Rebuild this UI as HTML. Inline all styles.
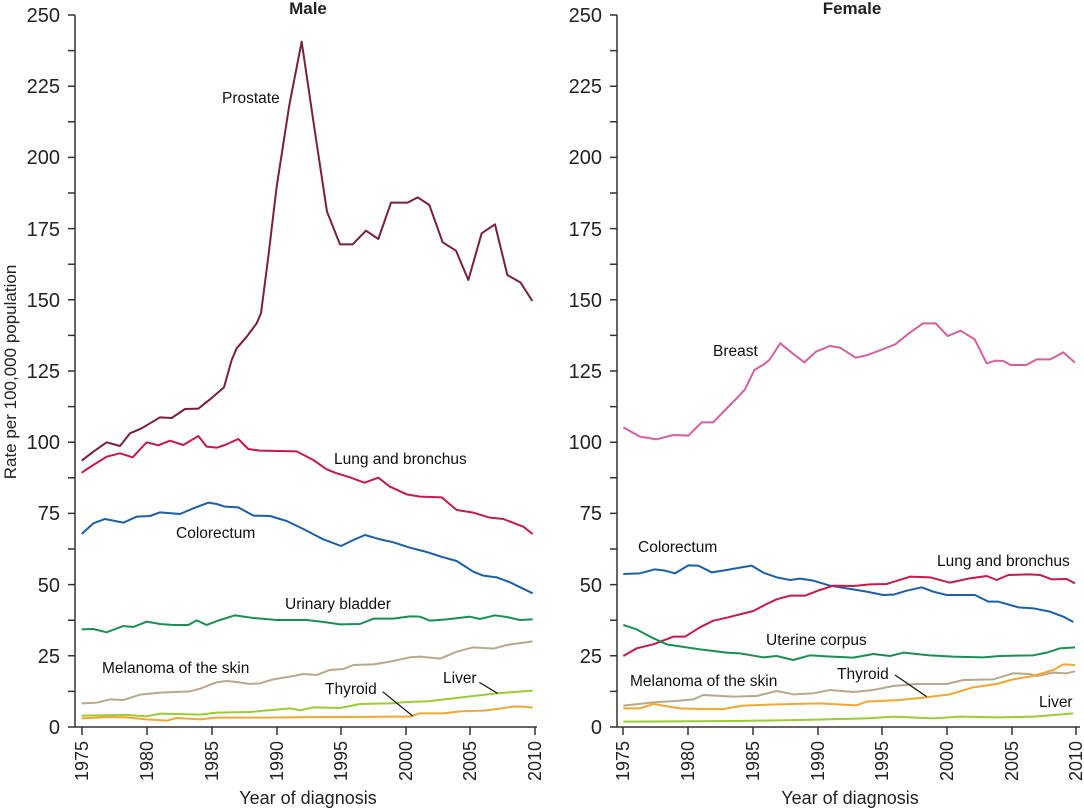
<!DOCTYPE html>
<html><head><meta charset="utf-8"><style>
html,body{margin:0;padding:0;background:#fff;}
svg{display:block;font-family:"Liberation Sans",Arial,sans-serif;}
.s{fill:none;stroke-width:2;vector-effect:non-scaling-stroke;stroke-linejoin:round}
.ax{stroke:#333;stroke-width:1.5;fill:none}
.t{font-size:18px;fill:#222}
.tk{font-size:20px;fill:#222}
.yr{font-size:18px;fill:#222}
.lb{font-size:15.5px;fill:#111}
</style></head><body>
<svg width="1084" height="809" viewBox="0 0 1084 809" xmlns="http://www.w3.org/2000/svg">
<text transform="translate(16,372) rotate(-90)" text-anchor="middle" class="t" style="font-size:17px">Rate per 100,000 population</text>

<g class="ax">
<path d="M75,15V727M68,727H537"/>
<path d="M68,15H75M68,50.6H75M68,86.2H75M68,121.8H75M68,157.4H75M68,193H75M68,228.6H75M68,264.2H75M68,299.8H75M68,335.4H75M68,371H75M68,406.6H75M68,442.2H75M68,477.8H75M68,513.4H75M68,549H75M68,584.6H75M68,620.2H75M68,655.8H75M68,691.4H75"/>
<path d="M82,727v8M147,727v8M212,727v8M277,727v8M341,727v8M406,727v8M470,727v8M535,727v8"/>
</g>
<g class="tk" text-anchor="end">
<text x="60" y="22">250</text><text x="60" y="93">225</text><text x="60" y="164">200</text><text x="60" y="236">175</text><text x="60" y="307">150</text><text x="60" y="378">125</text><text x="60" y="449">100</text><text x="60" y="520">75</text><text x="60" y="592">50</text><text x="60" y="663">25</text><text x="60" y="734">0</text>
</g>
<g class="yr" text-anchor="middle">
<text transform="translate(88,761) rotate(-90)">1975</text>
<text transform="translate(153,761) rotate(-90)">1980</text>
<text transform="translate(218,761) rotate(-90)">1985</text>
<text transform="translate(283,761) rotate(-90)">1990</text>
<text transform="translate(347,761) rotate(-90)">1995</text>
<text transform="translate(412,761) rotate(-90)">2000</text>
<text transform="translate(476,761) rotate(-90)">2005</text>
<text transform="translate(541,761) rotate(-90)">2010</text>
</g>
<text x="308" y="804" text-anchor="middle" class="t">Year of diagnosis</text>
<text x="308" y="14" text-anchor="middle" class="t" style="font-weight:bold;font-size:17px">Male</text>

<g transform="translate(60,0) scale(0.33333)">
<polyline class="s" stroke="#7a1f3d" points="65,1382 100,1355 140,1327 180,1338 210,1300 245,1285 300,1252 335,1254 375,1227 415,1226 450,1198 492,1162 515,1080 530,1045 560,1010 590,970 603,940 625,770 650,560 688,315 725,125 764,390 801,635 840,733 878,733 918,692 955,717 993,608 1043,608 1073,592 1108,615 1148,727 1188,752 1225,840 1265,700 1305,673 1342,825 1382,848 1417,903"/>
</g>
<g transform="translate(60,380) scale(0.33333)">
<polyline class="s" stroke="#c8184a" points="65,278 100,255 140,230 180,220 218,232 260,187 295,196 330,182 370,195 415,168 440,200 470,203 495,195 535,177 565,207 600,212 710,214 760,240 800,268 830,280 870,292 913,308 955,293 990,320 1040,343 1080,350 1145,352 1190,390 1240,398 1290,413 1330,417 1390,440 1418,462"/>
<polyline class="s" stroke="#1a5fa8" points="65,462 100,430 135,417 190,428 230,410 270,408 300,397 360,402 400,385 445,368 470,372 495,380 535,382 580,407 630,408 680,423 730,447 790,478 843,498 880,480 915,465 960,478 1000,487 1050,503 1100,516 1150,532 1190,543 1240,575 1270,587 1310,592 1350,607 1418,640"/>
<polyline class="s" stroke="#1a9050" points="65,748 100,747 140,757 190,738 220,741 260,725 300,732 340,735 385,735 410,721 440,735 480,720 525,706 580,714 650,720 740,720 800,727 840,733 900,732 940,716 1000,716 1050,709 1080,710 1110,722 1160,718 1230,710 1260,717 1305,706 1340,711 1380,720 1418,718"/>
<polyline class="s" stroke="#b8a88c" points="65,970 110,968 150,958 190,960 240,944 300,938 390,934 420,926 470,907 500,903 530,906 570,912 600,910 640,898 690,890 730,882 770,885 810,870 850,867 880,855 940,853 990,845 1050,832 1080,830 1140,836 1190,815 1240,802 1300,806 1340,795 1418,784"/>
<polyline class="s" stroke="#9acd32" points="65,1007 200,1005 260,1009 300,1001 420,1004 470,998 570,996 690,985 720,991 760,982 840,984 900,972 990,970 1040,966 1100,964 1180,955 1250,947 1310,940 1418,932"/>
<polyline class="s" stroke="#f0a830" points="65,1015 150,1011 200,1012 260,1018 320,1022 350,1014 420,1018 470,1013 600,1013 800,1011 1000,1010 1050,1010 1080,1000 1150,1000 1200,994 1270,992 1310,987 1360,980 1390,980 1418,983"/>
<path d="M968,935L1058,1008M1258,907L1313,940" stroke="#111" stroke-width="1.2" vector-effect="non-scaling-stroke"/>
</g>
<g class="lb">
<text x="222" y="103">Prostate</text>
<text x="334" y="464">Lung and bronchus</text>
<text x="176" y="538">Colorectum</text>
<text x="285" y="609">Urinary bladder</text>
<text x="102" y="673">Melanoma of the skin</text>
<text x="325" y="694">Thyroid</text>
<text x="443" y="683">Liver</text>
</g>

<g class="ax">
<path d="M617,15V727M610,727H1080"/>
<path d="M610,15H617M610,50.6H617M610,86.2H617M610,121.8H617M610,157.4H617M610,193H617M610,228.6H617M610,264.2H617M610,299.8H617M610,335.4H617M610,371H617M610,406.6H617M610,442.2H617M610,477.8H617M610,513.4H617M610,549H617M610,584.6H617M610,620.2H617M610,655.8H617M610,691.4H617"/>
<path d="M623,727v8M688,727v8M753,727v8M818,727v8M882,727v8M947,727v8M1012,727v8M1076,727v8"/>
</g>
<g class="tk" text-anchor="end">
<text x="602" y="22">250</text><text x="602" y="93">225</text><text x="602" y="164">200</text><text x="602" y="236">175</text><text x="602" y="307">150</text><text x="602" y="378">125</text><text x="602" y="449">100</text><text x="602" y="520">75</text><text x="602" y="592">50</text><text x="602" y="663">25</text><text x="602" y="734">0</text>
</g>
<g class="yr" text-anchor="middle">
<text transform="translate(629,761) rotate(-90)">1975</text>
<text transform="translate(694,761) rotate(-90)">1980</text>
<text transform="translate(759,761) rotate(-90)">1985</text>
<text transform="translate(824,761) rotate(-90)">1990</text>
<text transform="translate(888,761) rotate(-90)">1995</text>
<text transform="translate(953,761) rotate(-90)">2000</text>
<text transform="translate(1018,761) rotate(-90)">2005</text>
<text transform="translate(1082,761) rotate(-90)">2010</text>
</g>
<text x="850" y="804" text-anchor="middle" class="t">Year of diagnosis</text>
<text x="852" y="14" text-anchor="middle" class="t" style="font-weight:bold;font-size:17px">Female</text>

<g transform="translate(600,380) scale(0.33333)">
<polyline class="s" stroke="#d55fa0" points="70,142 120,170 170,178 220,165 265,167 305,127 340,127 390,75 410,55 435,28 463,-30 492,-47 508,-60 541,-110 575,-82 613,-53 648,-85 689,-102 720,-97 767,-67 803,-75 886,-107 927,-140 969,-170 1007,-170 1043,-132 1082,-148 1124,-122 1160,-50 1186,-58 1210,-57 1232,-45 1279,-45 1310,-62 1351,-62 1390,-83 1425,-52"/>
<polyline class="s" stroke="#1a5fa8" points="70,582 120,580 165,568 195,572 225,580 265,556 295,557 335,577 380,570 420,563 455,557 490,578 530,592 570,600 600,596 640,602 690,617 740,625 800,635 850,645 880,644 920,632 965,622 1000,635 1040,645 1125,645 1165,665 1195,665 1255,682 1300,685 1350,695 1390,710 1420,726"/>
<polyline class="s" stroke="#c8184a" points="70,828 110,805 160,793 220,770 255,770 300,742 340,722 380,713 460,693 500,672 530,658 570,647 615,647 660,630 700,617 760,618 810,613 860,612 930,590 990,592 1050,608 1110,595 1160,588 1190,600 1225,585 1290,583 1320,585 1355,598 1400,597 1425,610"/>
<polyline class="s" stroke="#1a9050" points="70,735 110,748 150,770 200,793 260,802 300,808 380,818 420,820 490,832 530,828 580,840 630,826 680,829 760,833 820,822 870,828 910,818 990,826 1060,830 1150,832 1200,828 1300,826 1340,818 1380,805 1425,802"/>
<polyline class="s" stroke="#b8a88c" points="70,977 160,967 240,962 280,958 310,945 400,950 470,948 530,933 580,943 640,940 690,930 760,936 820,930 880,918 950,912 1040,912 1090,900 1180,898 1240,880 1290,882 1310,888 1360,878 1400,880 1425,874"/>
<polyline class="s" stroke="#f0a830" points="70,985 120,985 160,972 240,985 300,987 370,987 430,977 530,973 660,970 770,976 800,965 900,960 970,953 1050,943 1120,922 1190,912 1240,898 1300,888 1360,870 1390,853 1425,855"/>
<polyline class="s" stroke="#9acd32" points="70,1025 400,1023 600,1020 800,1015 880,1010 1000,1015 1080,1010 1200,1012 1300,1010 1350,1006 1420,1000"/>
<path d="M885,885L980,950" stroke="#111" stroke-width="1.2" vector-effect="non-scaling-stroke"/>
</g>
<g class="lb">
<text x="713" y="356">Breast</text>
<text x="638" y="552">Colorectum</text>
<text x="937" y="566">Lung and bronchus</text>
<text x="766" y="645">Uterine corpus</text>
<text x="630" y="686">Melanoma of the skin</text>
<text x="837" y="679">Thyroid</text>
<text x="1039" y="707">Liver</text>
</g>
</svg>
</body></html>
